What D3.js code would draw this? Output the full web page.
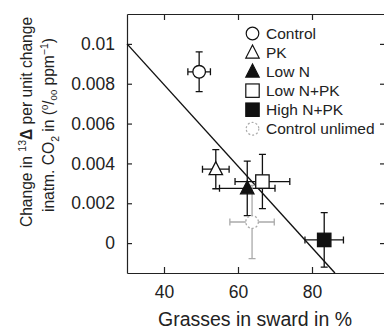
<!DOCTYPE html>
<html>
<head>
<meta charset="utf-8">
<script src="https://cdn.jsdelivr.net/npm/d3@7"></script>
<style>
  body { margin: 0; background: #fff; }
  svg { font-family: "Liberation Sans", Arial, sans-serif; }
</style>
</head>
<body>
<svg id="chart"></svg>
<script>
const WIDTH = 384;
const HEIGHT = 332;
const LEFT = 127, TOP = 14, RIGHT_EDGE = 386, BOTTOM = 273;

// data
const treatments = ["Control", "PK", "Low N", "Low N+PK", "High N+PK", "Control unlimed"];
const grassPct   = [49.5, 54.0, 62.5, 66.6, 83.3, 63.8];
const grassErr   = [3.05, 3.6, 7.5, 7.4, 5.2, 6.0];
const deltaChange = [0.0086, 0.00371, 0.00275, 0.00309, 0.00016, 0.00106];
const deltaErr    = [0.001, 0.00098, 0.00137, 0.00136, 0.00137, 0.00184];
const fitX = [30, 86.2];
const fitY = [0.01, -0.0015];
const xTicks = [40, 60, 80];
const yTicks = [0, 0.002, 0.004, 0.006, 0.008, 0.01];

const markerShape = ["circle", "triangle", "triangle", "square", "square", "circle"];
const markerFill  = ["#fff", "#fff", "#111", "#fff", "#111", "#fff"];
const markerStroke = ["#111", "#111", "#111", "#111", "#111", "#aaa"];
const markerDash = [null, null, null, null, null, "2,2"];

const x = d3.scaleLinear().domain([30, 100]).range([LEFT, RIGHT_EDGE]);
const y = d3.scaleLinear().domain([-0.0015, 0.0115]).range([BOTTOM, TOP]);

const svg = d3.select('#chart').attr('width', WIDTH).attr('height', HEIGHT);

const points = treatments.map((t, i) => ({
    name: t, gx: grassPct[i], ex: grassErr[i], dy: deltaChange[i], ey: deltaErr[i],
    shape: markerShape[i], fill: markerFill[i], stroke: markerStroke[i], dash: markerDash[i]
}));

// axes, ticks pointing inward
const fmtY = d => d === 0 ? "0" : d3.format(".3~f")(d);
const axisStyle = g => {
    g.select('.domain').attr('stroke', '#222').attr('stroke-width', 1.2);
    g.selectAll('.tick line').attr('stroke', '#222').attr('stroke-width', 1.2);
    g.selectAll('.tick text').attr('fill', '#222').attr('font-size', 17.5);
};

svg.append('g').attr('transform', `translate(0,${BOTTOM})`)
    .call(d3.axisBottom(x).tickValues(xTicks).tickSizeInner(-6).tickSizeOuter(0).tickPadding(13))
    .call(axisStyle);
svg.append('g').attr('transform', `translate(0,${TOP})`)
    .call(d3.axisTop(x).tickValues(xTicks).tickSizeInner(-6).tickSizeOuter(0).tickFormat(''))
    .call(axisStyle);
svg.append('g').attr('transform', `translate(${LEFT},0)`)
    .call(d3.axisLeft(y).tickValues(yTicks).tickSizeInner(-5).tickSizeOuter(0).tickPadding(12).tickFormat(fmtY))
    .call(axisStyle);
svg.append('g').attr('transform', `translate(${RIGHT_EDGE},0)`)
    .call(d3.axisRight(y).tickValues(yTicks).tickSizeInner(-6).tickSizeOuter(0).tickFormat(''))
    .call(axisStyle);

// regression line
svg.append('line')
    .attr('x1', x(fitX[0])).attr('y1', y(fitY[0]))
    .attr('x2', x(fitX[1])).attr('y2', y(fitY[1]))
    .attr('stroke', '#111').attr('stroke-width', 1.4);

// error bars
const CAP = 3.5;
const bars = svg.append('g').selectAll('g').data(points).join('g')
    .attr('stroke', d => d.stroke).attr('stroke-width', 1.3).attr('fill', 'none');
bars.append('path').attr('d', d => {
    const cx = x(d.gx), cy = y(d.dy);
    const y0 = y(d.dy - d.ey), y1 = y(d.dy + d.ey);
    const x0 = x(d.gx - d.ex), x1 = x(d.gx + d.ex);
    return `M${cx},${y0}V${y1}M${cx - CAP},${y0}H${cx + CAP}M${cx - CAP},${y1}H${cx + CAP}` +
        `M${x0},${cy}H${x1}M${x0},${cy - CAP}V${cy + CAP}M${x1},${cy - CAP}V${cy + CAP}`;
});

function drawMarker(sel, shape) {
    if (shape === 'circle') return sel.append('circle').attr('r', 6.3);
    if (shape === 'square') return sel.append('rect').attr('x', -6.7).attr('y', -6.7).attr('width', 13.4).attr('height', 13.4);
    return sel.append('path').attr('d', 'M0,-7.5L6.7,5.5L-6.7,5.5Z');
}

const marks = svg.append('g').selectAll('g').data(points).join('g')
    .attr('transform', d => `translate(${x(d.gx)},${y(d.dy)})`);
marks.each(function(d) {
    drawMarker(d3.select(this), d.shape)
        .attr('fill', d.fill).attr('stroke', d.stroke).attr('stroke-width', 1.3)
        .attr('stroke-dasharray', d.dash);
});

// legend
const legend = svg.append('g').selectAll('g').data(points).join('g')
    .attr('transform', (d, i) => `translate(252.5,${33.5 + i * 19.05})`);
legend.each(function(d) {
    drawMarker(d3.select(this), d.shape)
        .attr('fill', d.fill).attr('stroke', d.stroke).attr('stroke-width', 1.2)
        .attr('stroke-dasharray', d.dash);
});
legend.append('text')
    .attr('x', 13.5).attr('dy', '0.36em')
    .attr('font-size', 15.5).attr('fill', '#222')
    .text(d => d.name);

// axis titles
svg.append('text')
    .attr('x', 255).attr('y', 326)
    .attr('text-anchor', 'middle').attr('font-size', 19.5).attr('fill', '#222')
    .text('Grasses in sward in %');

const yl1 = svg.append('text')
    .attr('transform', 'translate(32,122) rotate(-90)')
    .attr('text-anchor', 'middle').attr('font-size', 15.6).attr('fill', '#222');
yl1.append('tspan').text('Change in ');
yl1.append('tspan').attr('font-size', 10.5).attr('dy', -6).text('13');
yl1.append('tspan').attr('font-weight', 'bold').attr('dy', 6).text('Δ');
yl1.append('tspan').text(' per unit change');

const yl2 = svg.append('text')
    .attr('transform', 'translate(54,125) rotate(-90)')
    .attr('text-anchor', 'middle').attr('font-size', 15.6).attr('fill', '#222');
yl2.append('tspan').text('inatm. CO');
yl2.append('tspan').attr('font-size', 10.5).attr('dy', 4.5).text('2');
yl2.append('tspan').attr('dy', -4.5).text(' in (');
yl2.append('tspan').attr('font-size', 9.5).attr('dy', -6).text('0');
yl2.append('tspan').attr('dy', 6).text('/');
yl2.append('tspan').attr('font-size', 9.5).attr('dy', 3).text('00');
yl2.append('tspan').attr('dy', -3).text(' ppm');
yl2.append('tspan').attr('font-size', 10.5).attr('dy', -6).text('−1');
yl2.append('tspan').attr('dy', 6).text(')');
</script>
</body>
</html>
